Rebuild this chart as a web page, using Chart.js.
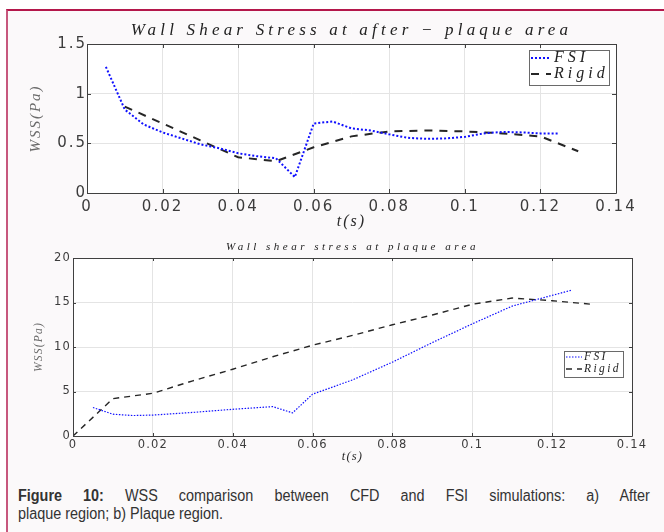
<!DOCTYPE html>
<html>
<head>
<meta charset="utf-8">
<script src="https://cdn.jsdelivr.net/npm/chart.js@4/dist/chart.umd.min.js"></script>
<style>
  body { margin: 0; background: #fff; width: 664px; height: 532px; overflow: hidden; position: relative; }
  #frame { position: absolute; left: 6px; top: 9px; width: 658px; height: 523px; box-sizing: border-box;
           border-top: 2px solid #b4174b; border-left: 2px solid #c7577d; background: #fbf9fa; }
  .box { position: absolute; left: 0; width: 664px; height: 235px; }
  #caption { position: absolute; left: 18px; top: 487px; width: 702px; color: #333;
             font: 16px "Liberation Sans", Arial, sans-serif; line-height: 18px;
             transform: scaleX(0.9); transform-origin: 0 0; }
  #caption .l1 { text-align: justify; text-align-last: justify; }
</style>
</head>
<body>
<div id="frame"></div>
<div class="box" style="top:0"><canvas id="c1"></canvas></div>
<div class="box" style="top:235px"><canvas id="c2"></canvas></div>
<div id="caption">
  <div class="l1"><b>Figure 10:</b> WSS comparison between CFD and FSI simulations: a) After</div>
  <div>plaque region; b) Plaque region.</div>
</div>
<script>
// a) after-plaque area
const t1Fsi = [0.005, 0.01, 0.015, 0.02, 0.025, 0.03, 0.035, 0.04, 0.045, 0.05, 0.055, 0.06, 0.065,
               0.07, 0.075, 0.08, 0.085, 0.09, 0.095, 0.1, 0.105, 0.11, 0.115, 0.12, 0.125];
const wss1Fsi = [1.27, 0.84, 0.69, 0.61, 0.55, 0.49, 0.45, 0.40, 0.37, 0.35, 0.16, 0.70, 0.72,
                 0.65, 0.63, 0.59, 0.555, 0.545, 0.55, 0.565, 0.60, 0.615, 0.61, 0.60, 0.60];
const t1Rigid = [0.01, 0.02, 0.03, 0.04, 0.05, 0.06, 0.07, 0.08, 0.09, 0.1, 0.11, 0.12, 0.13];
const wss1Rigid = [0.87, 0.70, 0.53, 0.36, 0.32, 0.46, 0.57, 0.62, 0.63, 0.62, 0.60, 0.57, 0.42];

// b) plaque area
const t2Fsi = [0.005, 0.01, 0.015, 0.02, 0.03, 0.04, 0.05, 0.055, 0.06, 0.065, 0.07, 0.08, 0.09,
               0.1, 0.11, 0.115, 0.12, 0.125];
const wss2Fsi = [3.2, 2.45, 2.3, 2.35, 2.65, 3.0, 3.3, 2.6, 4.7, 5.5, 6.3, 8.3, 10.5,
                 12.6, 14.6, 15.2, 15.8, 16.4];
const t2Rigid = [0, 0.01, 0.02, 0.03, 0.04, 0.05, 0.06, 0.07, 0.08, 0.09, 0.1, 0.11, 0.12, 0.13];
const wss2Rigid = [0, 4.2, 4.8, 6.2, 7.5, 8.9, 10.2, 11.3, 12.5, 13.6, 14.8, 15.5, 15.2, 14.8];

const xTicks = [0, 0.02, 0.04, 0.06, 0.08, 0.1, 0.12, 0.14];
const yTicks1 = [0, 0.5, 1, 1.5];
const yTicks2 = [0, 5, 10, 15, 20];
const seriesNames = ['FSI', 'Rigid'];
const title1 = 'Wall Shear Stress at after \u2212 plaque area';
const title2 = 'Wall shear stress at plaque area';

const pts = (xs, ys) => xs.map((x, i) => ({ x, y: ys[i] }));
const SERIF = '"Liberation Serif", "Times New Roman", serif';

// MATLAB-like box, inner ticks, title and legend
const matlabLook = {
  id: 'matlabLook',
  beforeDraw(chart, args, o) {
    const { ctx, chartArea: a } = chart;
    ctx.save();
    ctx.fillStyle = '#fff';
    ctx.fillRect(a.left, a.top, a.right - a.left, a.bottom - a.top);
    ctx.restore();
    ctx.letterSpacing = o.tickSpacing;
  },
  afterDatasetsDraw(chart, args, o) {
    const { ctx, chartArea: a, scales: { x, y } } = chart;
    const al = v => Math.round(v) + 0.5;
    ctx.save();
    ctx.strokeStyle = '#404040';
    ctx.lineWidth = 1;
    ctx.beginPath();
    ctx.rect(al(a.left), al(a.top), Math.round(a.right) - Math.round(a.left), Math.round(a.bottom) - Math.round(a.top));
    x.ticks.forEach(t => {
      const px = al(x.getPixelForValue(t.value));
      ctx.moveTo(px, a.bottom); ctx.lineTo(px, a.bottom - o.tickLen);
      ctx.moveTo(px, a.top); ctx.lineTo(px, a.top + o.tickLen);
    });
    y.ticks.forEach(t => {
      const py = al(y.getPixelForValue(t.value));
      ctx.moveTo(a.left, py); ctx.lineTo(a.left + o.tickLen, py);
      ctx.moveTo(a.right, py); ctx.lineTo(a.right - o.tickLen, py);
    });
    ctx.stroke();

    // title
    ctx.fillStyle = '#222';
    ctx.font = o.titleFont;
    ctx.letterSpacing = o.titleSpacing;
    ctx.textAlign = 'center';
    ctx.textBaseline = 'middle';
    ctx.fillText(o.title, (a.left + a.right) / 2, a.top - o.titleGap);

    // legend
    const L = o.legend;
    const bx = Math.round(a.right - L.right - L.w), by = Math.round(a.top + L.top);
    ctx.fillStyle = '#fff';
    ctx.fillRect(bx, by, L.w, L.h);
    ctx.strokeStyle = '#6a6a6a';
    ctx.strokeRect(bx + 0.5, by + 0.5, L.w, L.h);
    ctx.font = L.font;
    ctx.letterSpacing = L.spacing;
    ctx.textAlign = 'left';
    chart.data.datasets.forEach((ds, i) => {
      const ry = by + L.rows[i];
      ctx.save();
      ctx.strokeStyle = ds.borderColor;
      ctx.lineWidth = ds.borderWidth;
      ctx.setLineDash(ds.borderDash || []);
      ctx.beginPath();
      ctx.moveTo(bx + L.s0, ry); ctx.lineTo(bx + L.s1, ry);
      ctx.stroke();
      ctx.restore();
      ctx.fillStyle = '#222';
      ctx.fillText(ds.label, bx + L.tx, ry);
    });
    ctx.restore();
  }
};

function makeChart(id, cfg) {
  return new Chart(document.getElementById(id), {
    type: 'line',
    data: {
      datasets: [
        { label: seriesNames[0], data: pts(cfg.tF, cfg.vF), borderColor: '#1010ff',
          borderWidth: cfg.fsiW, borderDash: cfg.fsiDash, pointRadius: 0, tension: 0, fill: false },
        { label: seriesNames[1], data: pts(cfg.tR, cfg.vR), borderColor: '#262626',
          borderWidth: cfg.rigW, borderDash: cfg.rigDash, pointRadius: 0, tension: 0, fill: false }
      ]
    },
    options: {
      responsive: true,
      maintainAspectRatio: false,
      animation: false,
      layout: { padding: cfg.pad },
      plugins: {
        legend: { display: false },
        tooltip: { enabled: false },
        matlabLook: cfg.look
      },
      scales: {
        x: {
          type: 'linear', min: 0, max: 0.14,
          afterBuildTicks: s => { s.ticks = xTicks.map(v => ({ value: v })); },
          afterFit: s => { s.height = cfg.xH; },
          grid: { color: '#e4e4e4', drawTicks: false },
          border: { display: false },
          ticks: { padding: cfg.xPad, color: '#3c3c3c', autoSkip: false, maxRotation: 0,
                   font: { family: '"DejaVu Sans"', size: cfg.tickSize }, callback: v => String(v) },
          title: { display: true, text: 't(s)', color: '#2a2a2a',
                   font: { family: SERIF, size: cfg.xTitleSize, style: 'italic' },
                   padding: { top: 0, bottom: cfg.xTitlePad } }
        },
        y: {
          type: 'linear', min: 0, max: cfg.yMax,
          afterBuildTicks: s => { s.ticks = cfg.yTicks.map(v => ({ value: v })); },
          afterFit: s => { s.width = cfg.yW; },
          grid: { color: '#e4e4e4', drawTicks: false },
          border: { display: false },
          ticks: { padding: cfg.yPad, color: '#3c3c3c', autoSkip: false,
                   font: { family: '"DejaVu Sans"', size: cfg.tickSize }, callback: v => String(v) },
          title: { display: true, text: 'WSS(Pa)', color: '#6a6a6a',
                   font: { family: SERIF, size: cfg.yTitleSize, style: 'italic' },
                   padding: { top: cfg.yTitlePad, bottom: 0 } }
        }
      }
    },
    plugins: [matlabLook]
  });
}

makeChart('c1', {
  tF: t1Fsi, vF: wss1Fsi, tR: t1Rigid, vR: wss1Rigid,
  fsiW: 2, fsiDash: [2, 2], rigW: 2, rigDash: [8, 7],
  pad: { left: 0, right: 48, top: 44, bottom: 0 },
  xH: 42, yW: 87, xPad: 5, yPad: 0, tickSize: 15,
  xTitleSize: 16, xTitlePad: 4, yTitleSize: 15, yTitlePad: 27,
  yMax: 1.5, yTicks: yTicks1,
  look: {
    tickSpacing: '2px', tickLen: 4,
    title: title1, titleFont: 'italic 17px ' + SERIF, titleSpacing: '4.2px', titleGap: 13,
    legend: { right: 7, top: 6, w: 80, h: 35, rows: [8, 24], s0: 2, s1: 22, tx: 25,
              font: 'italic 16px ' + SERIF, spacing: '4px' }
  }
});

makeChart('c2', {
  tF: t2Fsi, vF: wss2Fsi, tR: t2Rigid, vR: wss2Rigid,
  fsiW: 1.2, fsiDash: [1.5, 1.5], rigW: 1.4, rigDash: [6, 5],
  pad: { left: 0, right: 32, top: 23, bottom: 0 },
  xH: 34, yW: 73, xPad: 2, yPad: 2, tickSize: 11.5,
  xTitleSize: 12.5, xTitlePad: 5.5, yTitleSize: 11.5, yTitlePad: 32,
  yMax: 20, yTicks: yTicks2,
  look: {
    tickSpacing: '1.2px', tickLen: 3,
    title: title2, titleFont: 'italic 11px ' + SERIF, titleSpacing: '3.5px', titleGap: 11,
    legend: { right: 9, top: 93, w: 59, h: 26, rows: [6, 18], s0: 2, s1: 18, tx: 20,
              font: 'italic 11.5px ' + SERIF, spacing: '2.4px' }
  }
});
</script>
</body>
</html>
